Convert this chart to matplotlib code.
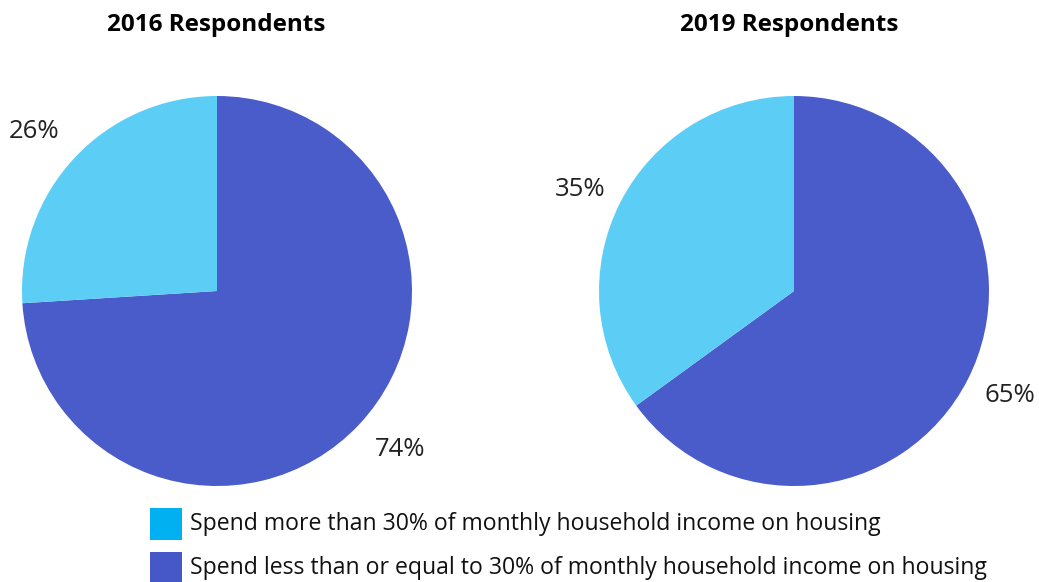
import matplotlib.pyplot as plt
from matplotlib.patches import Rectangle

plt.rcParams['font.family'] = ['Open Sans', 'DejaVu Sans']

# data
years = ["2016 Respondents", "2019 Respondents"]
more_than_30 = [26, 35]
less_or_equal_30 = [74, 65]
legend_labels = ["Spend more than 30% of monthly household income on housing",
                 "Spend less than or equal to 30% of monthly household income on housing"]

pie_colors = ["#5ccef6", "#4a5bca"]
legend_colors = ["#00b0f0", "#4658c8"]

W, H = 1039, 582
fig = plt.figure(figsize=(W / 100, H / 100), dpi=100)
ax = fig.add_axes([0, 0, 1, 1])
ax.set_xlim(0, W)
ax.set_ylim(0, H)
ax.set_aspect('equal')
ax.axis('off')

centers = [(217, H - 291), (794, H - 291)]
radius = 195
title_x = [216, 789]
label_pos = [[(34, 132), (400, 449)], [(580, 189), (1010, 395)]]

for i in range(len(years)):
    vals = [less_or_equal_30[i], more_than_30[i]]
    ax.pie(vals, colors=[pie_colors[1], pie_colors[0]], startangle=90,
           counterclock=False, center=centers[i], radius=radius,
           wedgeprops=dict(linewidth=0))
    ax.text(title_x[i], H - 25, years[i], ha='center', va='center',
            fontsize=17.5, fontweight='bold')
    (lx1, ly1), (lx2, ly2) = label_pos[i]
    ax.text(lx1, H - ly1, "%d%%" % more_than_30[i], ha='center', va='center',
            fontsize=18.5, color='#222222')
    ax.text(lx2, H - ly2, "%d%%" % less_or_equal_30[i], ha='center', va='center',
            fontsize=18.5, color='#222222')

# reset limits after pie calls
ax.set_xlim(0, W)
ax.set_ylim(0, H)

legend_y = [524, 568]
for j in range(2):
    ax.add_patch(Rectangle((150, H - legend_y[j] - 16), 32, 32,
                           facecolor=legend_colors[j], edgecolor='none'))
    ax.text(190, H - legend_y[j], legend_labels[j], ha='left', va='center',
            fontsize=16.6, color='#111111')

fig.savefig("out.png", dpi=100)
